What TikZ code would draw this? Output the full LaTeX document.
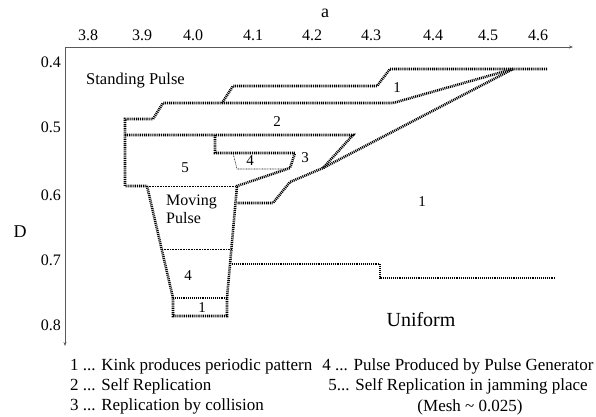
\documentclass[tikz,border=0pt]{standalone}
\usepackage{fontspec}
\setmainfont{Liberation Serif}
\usetikzlibrary{arrows.meta}
\begin{document}
\begin{tikzpicture}[x=1bp,y=-1bp,
  bound/.style={line width=2.6bp, dash pattern=on 1bp off 0.9bp},
  thindot/.style={line width=0.6bp, dash pattern=on 0.8bp off 0.8bp},
  axisline/.style={line width=0.8bp, draw=black!65, -{Stealth[length=4bp,width=3bp]}},
  ticklab/.style={font=\fontsize{16bp}{18bp}\selectfont, inner sep=0pt},
  lab/.style={font=\fontsize{16.5bp}{19bp}\selectfont, inner sep=0pt},
  leg/.style={font=\fontsize{17bp}{19bp}\selectfont, inner sep=0pt},
  num/.style={font=\fontsize{15bp}{17bp}\selectfont, inner sep=0pt},
  big/.style={font=\fontsize{18bp}{20bp}\selectfont, inner sep=0pt},
]
\useasboundingbox (0,0) rectangle (596,416);
% axes
\coordinate (O) at (65,47);
\coordinate (AX) at (573,47);
\coordinate (AY) at (65,346);
\draw[axisline] (O) -- (AX);
\draw[axisline] (O) -- (AY);
\node[big, anchor=base] (alab) at (325,17) {a};
\node[big, anchor=base] (dlab) at (20,237) {D};
% top ticks
\node[ticklab, anchor=base] (t38) at (88,40) {3.8};
\node[ticklab, anchor=base] (t39) at (142,40) {3.9};
\node[ticklab, anchor=base] (t40) at (193,40) {4.0};
\node[ticklab, anchor=base] (t41) at (253,40) {4.1};
\node[ticklab, anchor=base] (t42) at (312,40) {4.2};
\node[ticklab, anchor=base] (t43) at (371,40) {4.3};
\node[ticklab, anchor=base] (t44) at (433,40) {4.4};
\node[ticklab, anchor=base] (t45) at (488,40) {4.5};
\node[ticklab, anchor=base] (t46) at (538,40) {4.6};
% left ticks
\node[ticklab, anchor=base east] (d04) at (61,67) {0.4};
\node[ticklab, anchor=base east] (d05) at (61,132) {0.5};
\node[ticklab, anchor=base east] (d06) at (61,200) {0.6};
\node[ticklab, anchor=base east] (d07) at (61,265) {0.7};
\node[ticklab, anchor=base east] (d08) at (61,330) {0.8};
% region boundaries
\draw[bound] (547,69) -- (390,69) -- (377,86) -- (233,86) -- (222,103);
\draw[bound] (513,69) -- (393,103) -- (163,103) -- (153,119) -- (125,119) -- (125,186) -- (147,186);
\draw[bound] (125,135) -- (353,135) -- (323,168);
\draw[bound] (513,69) -- (323,168) -- (290,182) -- (273,203) -- (237,203);
\draw[bound] (215,135) -- (215,153) -- (295,153) -- (290,168) -- (237,186) -- (227,298) -- (227,316) -- (173,316) -- (173,298) -- (147,186);
\draw[bound] (173,298) -- (227,298);
\draw[bound] (232,264) -- (380,264) -- (380,278) -- (555,278);
% dotted separators
\draw[thindot] (147,186) -- (237,186);
\draw[thindot] (233,153) -- (237,169) -- (286,169);
\draw[thindot] (162,249) -- (231,249);
% region labels
\node[lab, anchor=base west] (sp) at (86,84) {Standing Pulse};
\node[num] (r1a) at (397,88) {1};
\node[num] (r2) at (277,122) {2};
\node[num] (r3) at (305,158) {3};
\node[num] (r4a) at (250,161) {4};
\node[num] (r5) at (185,168) {5};
\node[font=\fontsize{16bp}{17.5bp}\selectfont, inner sep=0pt, anchor=west, align=left] (mp) at (166,209.5) {Moving\\Pulse};
\node[num] (r1b) at (422,202) {1};
\node[num] (r4b) at (188,276) {4};
\node[num] (r1c) at (202,308) {1};
\node[font=\fontsize{20bp}{22bp}\selectfont, inner sep=0pt, anchor=base] (uni) at (421,326) {Uniform};
% legend
\node[leg, anchor=base west] (l1) at (70,370) {1 ... Kink produces periodic pattern};
\node[leg, anchor=base west] (l2) at (70,390) {2 ... Self Replication};
\node[leg, anchor=base west] (l3) at (70,410) {3 ... Replication by collision};
\node[leg, anchor=base] (l4) at (458,370) {4 ... Pulse Produced by Pulse Generator};
\node[leg, anchor=base] (l5) at (458,390) {5... Self Replication in jamming place};
\node[leg, anchor=base] (l6) at (470,411) {(Mesh \textasciitilde{} 0.025)};
\end{tikzpicture}
\end{document}
